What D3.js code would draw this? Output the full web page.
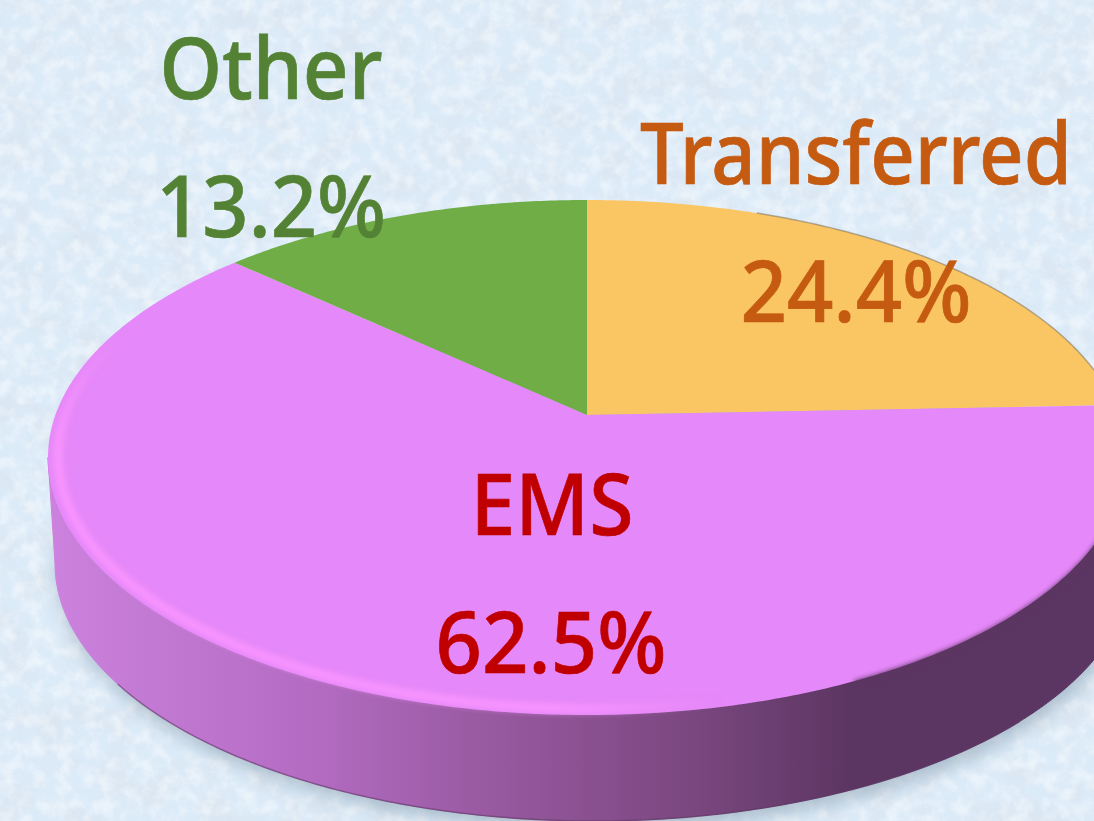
<!DOCTYPE html>
<html><head><meta charset="utf-8">
<script src="https://cdn.jsdelivr.net/npm/d3@7/dist/d3.min.js"></script>
<style>html,body{margin:0;padding:0;background:#dcebf8;overflow:hidden}svg{display:block}
text{font-family:"Noto Sans","Open Sans",sans-serif;font-weight:500}</style></head><body>
<script>
const categories = ["Transferred","EMS","Other"];
const values = [24.4,62.5,13.2];
const percentLabels = ["24.4%","62.5%","13.2%"];
const sliceColors = ["#fac664","#e588f9","#70ad47"];
const textColors = ["#c55a11","#c00000","#548235"];
const W=1094,H=821;
const apex={x:587,y:415}, A=531.6, B=250.5, K=0.165, wall={dx:7,dy:106};
function proj(a,r=1,off={dx:0,dy:0}){
  const u=r*Math.sin(a), v=-r*Math.cos(a), d=1-K*v;
  return [apex.x+off.dx+A*u/d, apex.y+off.dy+B*v/d];
}
const arcPts=(a0,a1,r=1,off)=>{
  const n=Math.max(2,Math.ceil(Math.abs(a1-a0)/0.01));
  return d3.range(n+1).map(i=>proj(a0+(a1-a0)*i/n,r,off));
};
const line=d3.line();
const svg=d3.select("body").append("svg").attr("width",W).attr("height",H);
const defs=svg.append("defs");

// paper texture
const f=defs.append("filter").attr("id","tex").attr("x",0).attr("y",0).attr("width","100%").attr("height","100%");
f.append("feTurbulence").attr("type","fractalNoise").attr("baseFrequency","0.03").attr("numOctaves",5).attr("seed",7).attr("result","n");
f.append("feColorMatrix").attr("in","n").attr("type","matrix")
 .attr("values","0 0 0 0 0.70  0 0 0 0 0.76  0 0 0 0 0.84  3 0 0 0 -1.3");
const g2=defs.append("filter").attr("id","tex2").attr("x",0).attr("y",0).attr("width","100%").attr("height","100%");
g2.append("feTurbulence").attr("type","fractalNoise").attr("baseFrequency","0.07").attr("numOctaves",4).attr("seed",21);
g2.append("feColorMatrix").attr("type","matrix")
 .attr("values","0 0 0 0 1  0 0 0 0 1  0 0 0 0 1  0 2.6 0 0 -1.05");
defs.append("filter").attr("id","blur2").attr("x","-10%").attr("y","-10%").attr("width","120%").attr("height","120%").append("feGaussianBlur").attr("stdDeviation",2.2);
defs.append("filter").attr("id","blur3").attr("x","-10%").attr("y","-10%").attr("width","120%").attr("height","120%").append("feGaussianBlur").attr("stdDeviation",3);
defs.append("filter").attr("id","blur8").attr("x","-10%").attr("y","-10%").attr("width","120%").attr("height","120%").append("feGaussianBlur").attr("stdDeviation",9);

const wallStops=[[0,"#cc82de"],[0.23,"#b56dc4"],[0.42,"#96589e"],[0.6,"#7a477f"],[0.74,"#5c3662"],[1,"#5c3662"]];
const wg=defs.append("linearGradient").attr("id","wallG").attr("gradientUnits","userSpaceOnUse")
 .attr("x1",48).attr("x2",1130).attr("y1",0).attr("y2",0);
wg.selectAll("stop").data(wallStops).join("stop").attr("offset",d=>d[0]).attr("stop-color",d=>d[1]);
const hg=defs.append("linearGradient").attr("id","hiG").attr("gradientUnits","userSpaceOnUse")
 .attr("x1",48).attr("x2",720).attr("y1",0).attr("y2",0);
[[0,1],[0.75,1],[1,0]].forEach(s=>hg.append("stop").attr("offset",s[0]).attr("stop-color","#fb95ff").attr("stop-opacity",s[1]));
const vg=defs.append("linearGradient").attr("id","fadeV").attr("gradientUnits","userSpaceOnUse")
 .attr("x1",0).attr("x2",0).attr("y1",330).attr("y2",450);
[[0,"#000"],[1,"#fff"]].forEach(s=>vg.append("stop").attr("offset",s[0]).attr("stop-color",s[1]));
defs.append("mask").attr("id","fadeMask").attr("maskUnits","userSpaceOnUse").attr("x",0).attr("y",0).attr("width",W).attr("height",H)
 .append("rect").attr("width",W).attr("height",H).attr("fill","url(#fadeV)");

svg.append("rect").attr("width",W).attr("height",H).attr("fill","#dcebf8");
svg.append("rect").attr("width",W).attr("height",H).attr("filter","url(#tex)").attr("opacity",.5);
svg.append("rect").attr("width",W).attr("height",H).attr("filter","url(#tex2)").attr("opacity",.45);

// soft shadow beneath the disc
const full=arcPts(0,2*Math.PI,1,{dx:wall.dx+3,dy:wall.dy+9});
svg.append("path").attr("d",line(full)+"Z").attr("fill","#7f95a8").attr("opacity",.55).attr("filter","url(#blur8)");

// side wall: between the tangent points of the projected rim
const tan=Math.acos(-K);
const lowTop=arcPts(tan,2*Math.PI-tan,1);
const lowBot=arcPts(2*Math.PI-tan,tan,1,wall);
svg.append("path").attr("d",line(lowTop.concat(lowBot))+"Z").attr("fill","url(#wallG)").attr("stroke","url(#wallG)");
svg.append("path").attr("d",line(arcPts(Math.PI*1.3,Math.PI*0.75,1,wall)))
 .attr("fill","none").attr("stroke","#5c3662").attr("stroke-width",1.5).attr("opacity",.55);

// slices via d3.pie
const pie=d3.pie().sort(null)(values);
svg.append("g").selectAll("path").data(pie).join("path")
 .attr("d",d=>line([proj(0,0)].concat(arcPts(d.startAngle,d.endAngle)))+"Z")
 .attr("fill",(d,i)=>sliceColors[i]);

// rim highlight + soft dark edge
svg.append("g").attr("mask","url(#fadeMask)").append("path").attr("d",line(arcPts(Math.PI*0.9,Math.PI*1.7,0.982)))
 .attr("fill","none").attr("stroke","url(#hiG)").attr("stroke-width",8).attr("filter","url(#blur3)");
svg.append("path").attr("d",line(arcPts(Math.PI*0.62,Math.PI*0.86,1.004)))
 .attr("fill","none").attr("stroke","#5c3662").attr("stroke-width",5).attr("opacity",.75).attr("filter","url(#blur2)");
svg.append("path").attr("d",line(arcPts(Math.PI*0.12,Math.PI*0.5,1)))
 .attr("fill","none").attr("stroke","#8a7a60").attr("stroke-width",1.5).attr("opacity",.6);

// labels: horizontally scaled to the widths seen in the picture
const nameSpots=[[856,184,432],[552,535,163],[271,99,223]];
const pctSpots=[[856,322,231],[551,673,231],[271,237,230]];
const size=85;
const lab=(txt,p,c)=>{
  const t=svg.append("text").attr("text-anchor","middle")
    .attr("font-size",size).attr("fill",c).attr("stroke",c).attr("stroke-width",0.7).text(txt);
  const sx=p[2]/t.node().getComputedTextLength();
  t.attr("transform",`translate(${p[0]},${p[1]}) scale(${sx},1)`);
};
categories.forEach((c,i)=>{lab(c,nameSpots[i],textColors[i]);lab(percentLabels[i],pctSpots[i],textColors[i]);});
</script></body></html>
